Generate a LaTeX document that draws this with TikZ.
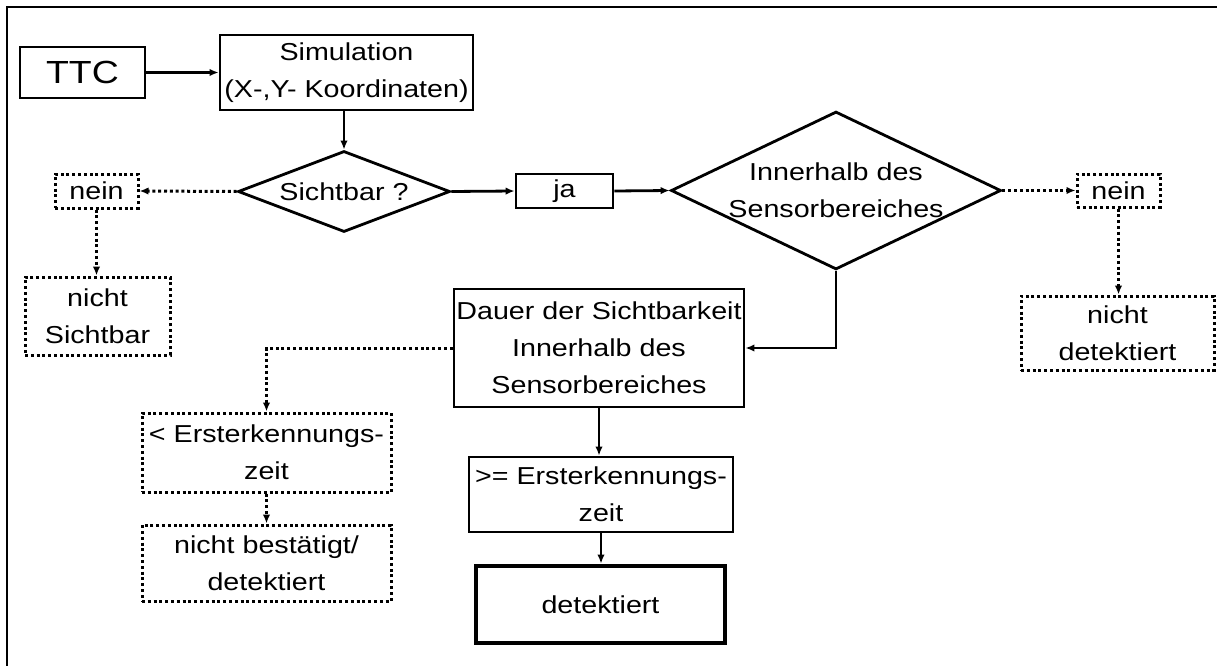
\documentclass[tikz,border=0pt]{standalone}
\usepackage{fontspec}
\setmainfont{Liberation Sans}[FakeStretch=1.17]
\usetikzlibrary{shapes.geometric,arrows.meta}
\tikzset{
  txt/.style={font=\fontsize{24.5}{37}\selectfont},
  box/.style={draw, line width=2.8pt, inner sep=0pt, align=center, txt},
  dbox/.style={box, line width=3pt, dash pattern=on 3pt off 2.8pt},
  dia/.style={diamond, draw, line width=2.8pt, inner sep=0pt, align=center, txt},
  arr/.style={-{Latex[length=9pt,width=7.5pt]}, line width=2.8pt},
  darr/.style={arr, line width=3pt, dash pattern=on 3pt off 2.8pt},
}
\begin{document}
\begin{tikzpicture}[x=1pt, y=-1pt]
\useasboundingbox (0,0) rectangle (1217,666);
\fill[white] (0,0) rectangle (1217,666);
\draw[line width=2.8pt] (7,666) -- (7,7) -- (1217,7);

\node[box, minimum width=125pt, minimum height=51pt, font=\fontsize{32}{37}\selectfont] (ttc) at (82.5,72.5) {TTC};
\node[box, minimum width=253pt, minimum height=75pt] (sim) at (346.5,72.5) {Simulation\\(X-,Y- Koordinaten)};
\node[dia, aspect=2.62, minimum width=212pt, minimum height=81pt] (sicht) at (344,191.5) {Sichtbar ?};
\node[dbox, minimum width=83pt, minimum height=34pt] (neinL) at (96.5,191) {nein};
\node[dbox, minimum width=145pt, minimum height=78pt] (nichtS) at (97.5,316) {nicht\\Sichtbar};
\node[box, minimum width=97pt, minimum height=34pt] (ja) at (564.5,191) {ja};
\node[dia, aspect=2.09, minimum width=324pt, minimum height=155pt] (inner) at (836,190.5) {Innerhalb des\\Sensorbereiches};
\node[dbox, minimum width=83pt, minimum height=33pt] (neinR) at (1118.5,190.5) {nein};
\node[dbox, minimum width=193pt, minimum height=74pt] (nichtD) at (1117.5,333) {nicht\\detektiert};
\node[box, minimum width=290pt, minimum height=118pt] (dauer) at (599,348) {Dauer der Sichtbarkeit\\Innerhalb des\\Sensorbereiches};
\node[dbox, minimum width=249pt, minimum height=79pt] (lt) at (266.5,452.5) {< Ersterkennungs-\\zeit};
\node[dbox, minimum width=249pt, minimum height=76pt] (nb) at (266.5,563) {nicht bestätigt/\\detektiert};
\node[box, minimum width=264pt, minimum height=75pt] (ge) at (601,494.5) {>= Ersterkennungs-\\zeit};
\node[box, line width=4.8pt, minimum width=249pt, minimum height=77pt] (det) at (600.5,604.5) {detektiert};

\draw[arr] (ttc) -- (sim);
\draw[arr] (sicht.north |- sim.south) -- (sicht.north);
\draw[darr] (sicht.west) -- (neinL.east);
\draw[darr] (neinL.south) -- (neinL.south |- nichtS.north);
\draw[arr] (sicht.east) -- (ja.west);
\draw[arr] (ja.east) -- (inner.west);
\draw[darr] (inner.east) -- (neinR.west);
\draw[darr] (neinR.south) -- (neinR.south |- nichtD.north);
\draw[arr] (inner.south) |- (dauer.east);
\draw[darr] (dauer.west) -| (lt.north);
\draw[darr] (lt.south) -- (nb.north);
\draw[arr] (dauer.south) -- (dauer.south |- ge.north);
\draw[arr] (ge.south) -- (ge.south |- det.north);
\end{tikzpicture}
\end{document}
